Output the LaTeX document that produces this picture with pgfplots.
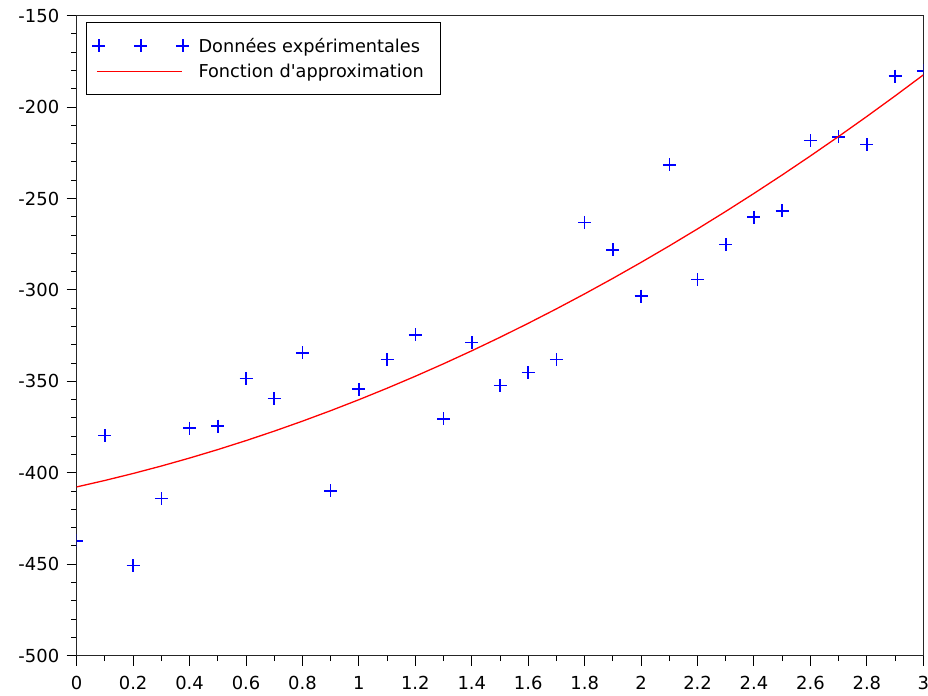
\documentclass[border=0pt]{standalone}
\usepackage{fontspec}
\setmainfont{DejaVu Sans}[Ligatures=TeXOff]
\usepackage{pgfplots}
\pgfplotsset{compat=1.18}
\begin{document}
\begin{tikzpicture}
\begin{axis}[
  scale only axis,
  width=846.6bp, height=640bp,
  xmin=0, xmax=3, ymin=-500, ymax=-150,
  axis line style={line width=1.2bp, black!85},
  xtick={0,0.2,0.4,0.6,0.8,1,1.2,1.4,1.6,1.8,2,2.2,2.4,2.6,2.8,3},
  xticklabels={0,0.2,0.4,0.6,0.8,1,1.2,1.4,1.6,1.8,2,2.2,2.4,2.6,2.8,3},
  ytick={-500,-450,-400,-350,-300,-250,-200,-150},
  yticklabels={-500,-450,-400,-350,-300,-250,-200,-150},
  minor x tick num=1, minor y tick num=4,
  tick align=outside, tick pos=left,
  major tick length=10bp, minor tick length=5.5bp,
  every tick/.style={line width=1bp, black},
  ticklabel style={font=\fontsize{18}{21}\selectfont, text=black},
  xticklabel style={yshift=-7bp},
  yticklabel style={xshift=-4bp},
  clip marker paths=true,
  legend style={at={(axis description cs:0.0106,0.9897)}, anchor=north west,
    draw=black, line width=1.2bp, font=\fontsize{17.8}{20}\selectfont,
    inner xsep=6bp, inner ysep=13bp, row sep=6.6bp,
    /tikz/every even column/.append style={column sep=12bp}},
  legend cell align=left,
]
\addplot[only marks, mark=+, mark size=6.5bp, mark options={draw=blue}, blue, line width=1.6bp,
  legend image code/.code={\draw[blue, line width=1.6bp] plot[mark=+, mark size=6.5bp, only marks] coordinates {(0bp,0bp) (42bp,0bp) (84bp,0bp)}; \path (97bp,0bp);}]
  coordinates {
  (0,-437.2) (0.1,-379.6) (0.2,-450.7) (0.3,-414.1) (0.4,-375.6) (0.5,-374.5)
  (0.6,-348.3) (0.7,-359.4) (0.8,-334.3) (0.9,-409.9) (1.0,-354.3) (1.1,-338.1)
  (1.2,-324.6) (1.3,-370.5) (1.4,-328.8) (1.5,-352.3) (1.6,-345.2) (1.7,-338.1)
  (1.8,-263.0) (1.9,-278.1) (2.0,-303.3) (2.1,-231.5) (2.2,-294.3) (2.3,-275.2)
  (2.4,-260.1) (2.5,-256.8) (2.6,-218.3) (2.7,-216.2) (2.8,-220.5) (2.9,-183.0)
  (3.0,-180.2)
  };
\addlegendentry{Données expérimentales}
\addplot[red, line width=1.3bp,
  legend image code/.code={\draw[red, line width=1.3bp] (-2bp,0bp) -- (83bp,0bp); \path (97bp,0bp);}]
  coordinates {
  (0,-407.70) (0.1,-404.16) (0.2,-400.35) (0.3,-396.27) (0.4,-391.91) (0.5,-387.28)
  (0.6,-382.37) (0.7,-377.19) (0.8,-371.73) (0.9,-366.00) (1.0,-360.00) (1.1,-353.72)
  (1.2,-347.17) (1.3,-340.35) (1.4,-333.25) (1.5,-325.88) (1.6,-318.23) (1.7,-310.31)
  (1.8,-302.11) (1.9,-293.64) (2.0,-284.90) (2.1,-275.88) (2.2,-266.59) (2.3,-257.03)
  (2.4,-247.19) (2.5,-237.08) (2.6,-226.69) (2.7,-216.03) (2.8,-205.09) (2.9,-193.88)
  (3.0,-182.40)
  };
\addlegendentry{Fonction d'approximation\hspace*{9bp}}
\end{axis}
\pgfresetboundingbox
\useasboundingbox ([xshift=-76.7bp,yshift=-40.3bp]current axis.south west) rectangle ([xshift=4.7bp,yshift=15.7bp]current axis.north east);
\end{tikzpicture}
\end{document}
